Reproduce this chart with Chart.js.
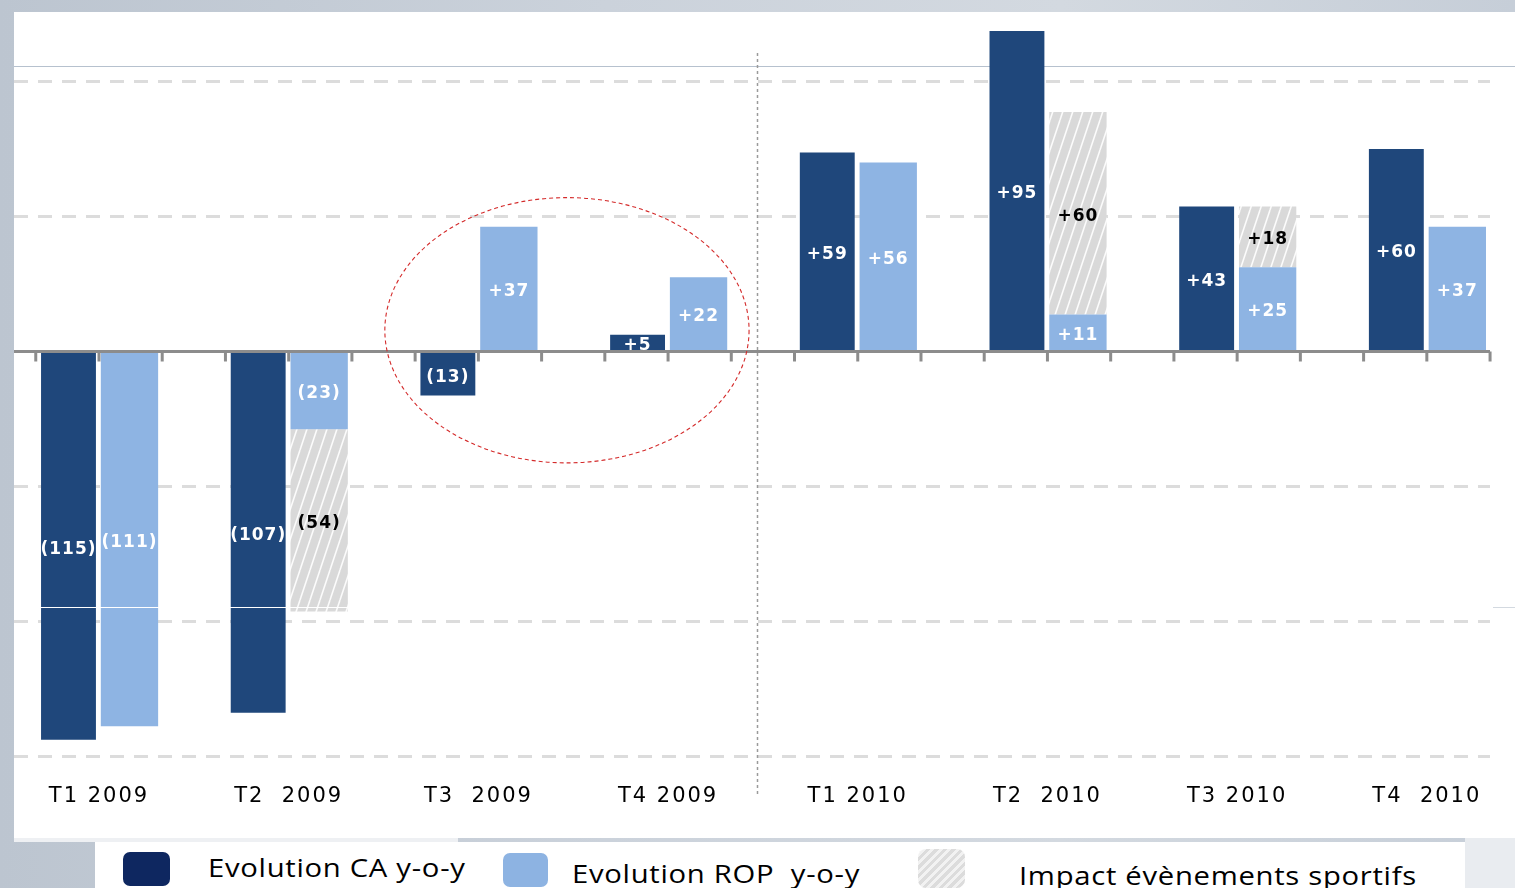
<!DOCTYPE html>
<html>
<head>
<meta charset="utf-8">
<script src="https://cdn.jsdelivr.net/npm/chart.js@4/dist/chart.umd.min.js"></script>
<style>
  body { margin: 0; width: 1515px; height: 888px; overflow: hidden; position: relative;
         background: linear-gradient(90deg, #bcc5d0 0%, #cbd2db 40%, #d3d9e0 70%, #c6ced8 100%); }
  #panel { position: absolute; left: 14px; top: 12px; width: 1501px; height: 826px; background: #fff; }
  #topline { position: absolute; left: 14px; top: 66px; width: 1501px; height: 1px; background: #b6c1ce; }
  #wrap { position: absolute; left: 0; top: 0; width: 1515px; height: 840px; }
  #whiteline { position: absolute; left: 14px; top: 607px; width: 1479px; height: 1px; background: #fff; }
  #greyline { position: absolute; left: 1493px; top: 607px; width: 22px; height: 1px; background: #d3d9e0; }
  #legendbox { position: absolute; left: 95px; top: 842px; width: 1370px; height: 46px; background: #fff; }
  #legendstrip { position: absolute; left: 14px; top: 838px; width: 444px; height: 4px; background: #eef0f3; }
  #legendright { position: absolute; left: 1465px; top: 838px; width: 50px; height: 50px; background: #e9ecf0; }
  .sw { position: absolute; border-radius: 7px; }
  .lt { position: absolute; font-family: "Open Sans", sans-serif; font-size: 25px; line-height: 30px;
        color: #000; white-space: pre; letter-spacing: 0.6px; transform: scaleX(1.17); transform-origin: 0 50%; }
</style>
</head>
<body>
<div id="panel"></div>
<div id="topline"></div>
<div id="wrap"><canvas id="graph" width="1515" height="840"></canvas></div>
<div id="whiteline"></div>
<div id="greyline"></div>
<div id="legendstrip"></div>
<div id="legendright"></div>
<div id="legendbox"></div>
<div class="sw" style="left:123px;top:852px;width:47px;height:34px;background:#0e2760;"></div>
<div class="lt" style="left:208px;top:852px;">Evolution CA y-o-y</div>
<div class="sw" style="left:503px;top:853px;width:45px;height:34px;background:#8db3e2;"></div>
<div class="lt" style="left:572px;top:858px;">Evolution ROP  y-o-y</div>
<div class="sw" style="left:918px;top:849px;width:47px;height:39px;border-radius:8px;
  background:repeating-linear-gradient(135deg,#dcdcdc 0px,#dcdcdc 3px,#f2f2f2 3px,#f2f2f2 6px);"></div>
<div class="lt" style="left:1019px;top:860px;">Impact évènements sportifs</div>

<script>
const categories = ['T1 2009', 'T2  2009', 'T3  2009', 'T4 2009', 'T1 2010', 'T2  2010', 'T3 2010', 'T4  2010'];
const caValues = [-115, -107, -13, 5, 59, 95, 43, 60];
const ropValues = [-111, -23, 37, 22, 56, 11, 25, 37];
const impactValues = [null, -54, null, null, null, 60, 18, null];
const gridTicks = [-120, -80, -40, 0, 40, 80];

// hatch pattern for the "impact" bars
function makeHatch() {
    const c = document.createElement('canvas');
    c.width = 10; c.height = 30;
    const g = c.getContext('2d');
    g.fillStyle = '#d9d9d9';
    g.fillRect(0, 0, 10, 30);
    g.strokeStyle = 'rgba(255,255,255,0.9)';
    g.lineWidth = 1.6;
    for (let x0 = -10; x0 <= 10; x0 += 10) {
        g.beginPath();
        g.moveTo(x0, 30);
        g.lineTo(x0 + 10, 0);
        g.stroke();
    }
    return g.createPattern(c, 'repeat');
}

function fmt(v) {
    return v < 0 ? '(' + Math.abs(v) + ')' : '+' + v;
}

const decorations = {
    id: 'decorations',
    afterDatasetsDraw(chart) {
        const ctx = chart.ctx;
        const xs = chart.scales.x;
        const ys = chart.scales.y;
        const y0 = ys.getPixelForValue(0);
        ctx.save();

        // zero line + small ticks
        ctx.strokeStyle = '#8c8c8c';
        ctx.lineWidth = 3;
        ctx.beginPath();
        ctx.moveTo(chart.chartArea.left, y0);
        ctx.lineTo(chart.chartArea.right, y0);
        ctx.stroke();
        for (let k = -1; k <= 22; k++) {
            const px = xs.getPixelForValue(k / 3);
            ctx.beginPath();
            ctx.moveTo(px, y0);
            ctx.lineTo(px, y0 + 10);
            ctx.stroke();
        }

        // separator 2009 / 2010
        ctx.strokeStyle = '#9a9a9a';
        ctx.lineWidth = 1.5;
        ctx.setLineDash([3, 3]);
        const sx = Math.round(xs.getPixelForValue(3.47)) + 0.5;
        ctx.beginPath();
        ctx.moveTo(sx, 53);
        ctx.lineTo(sx, 795);
        ctx.stroke();

        // red ellipse around T3/T4 2009
        ctx.strokeStyle = '#d42a2a';
        ctx.lineWidth = 1.1;
        ctx.setLineDash([4, 3]);
        const cx = xs.getPixelForValue(2.467);
        const cy = ys.getPixelForValue(6.3);
        const rx = xs.getPixelForValue(2.467 + 0.96) - cx;
        const ry = ys.getPixelForValue(0) - ys.getPixelForValue(39.3);
        ctx.beginPath();
        ctx.ellipse(cx, cy, rx, ry, 0, 0, Math.PI * 2);
        ctx.stroke();
        ctx.setLineDash([]);

        // value labels
        ctx.font = 'bold 17px "DejaVu Sans"';
        ctx.letterSpacing = '1px';
        ctx.textAlign = 'center';
        ctx.textBaseline = 'middle';
        chart.data.datasets.forEach((ds, di) => {
            const meta = chart.getDatasetMeta(di);
            meta.data.forEach((bar, i) => {
                const v = ds.data[i].y;
                if (v === null) return;
                ctx.fillStyle = di === 2 ? '#000' : '#fff';
                ctx.fillText(fmt(v), bar.x, (bar.y + bar.base) / 2 + 3);
            });
        });

        // category labels
        ctx.font = '21px "DejaVu Sans"';
        ctx.letterSpacing = '2px';
        ctx.fillStyle = '#000';
        categories.forEach((c, i) => {
            ctx.fillText(c, xs.getPixelForValue(i), 797);
        });
        ctx.restore();
    }
};

const graph = document.getElementById('graph');
let chart = new Chart(graph, {
    type: 'bar',
    data: {
        datasets: [{
            label: 'Evolution CA y-o-y',
            data: caValues.map((v, i) => ({ x: i, y: v })),
            backgroundColor: '#1f477b',
            stack: 'ca',
            barPercentage: 0.9
        }, {
            label: 'Evolution ROP y-o-y',
            data: ropValues.map((v, i) => ({ x: i, y: v })),
            backgroundColor: '#8eb4e3',
            stack: 'rop',
            barPercentage: 0.94
        }, {
            label: 'Impact évènements sportifs',
            data: impactValues.map((v, i) => ({ x: i, y: v })),
            backgroundColor: makeHatch(),
            stack: 'rop',
            barPercentage: 0.94
        }]
    },
    options: {
        responsive: false,
        animation: false,
        layout: { padding: { left: 14, right: 25, top: 14, bottom: 70 } },
        categoryPercentage: 0.643,
        plugins: { legend: { display: false }, tooltip: { enabled: false } },
        scales: {
            x: {
                type: 'linear',
                display: false,
                offset: false,
                min: -0.448,
                max: 7.333,
                afterBuildTicks: s => { s.ticks = categories.map((c, i) => ({ value: i })); }
            },
            y: {
                stacked: true,
                min: -124,
                max: 100,
                afterBuildTicks: s => { s.ticks = gridTicks.map(v => ({ value: v })); },
                ticks: { display: false },
                border: { display: false, dash: [14, 10] },
                grid: {
                    drawTicks: false,
                    lineWidth: 3,
                    color: c => c.tick && c.tick.value === 0 ? 'rgba(0,0,0,0)' : '#dcdcdc'
                }
            }
        }
    },
    plugins: [decorations]
});
</script>
</body>
</html>
